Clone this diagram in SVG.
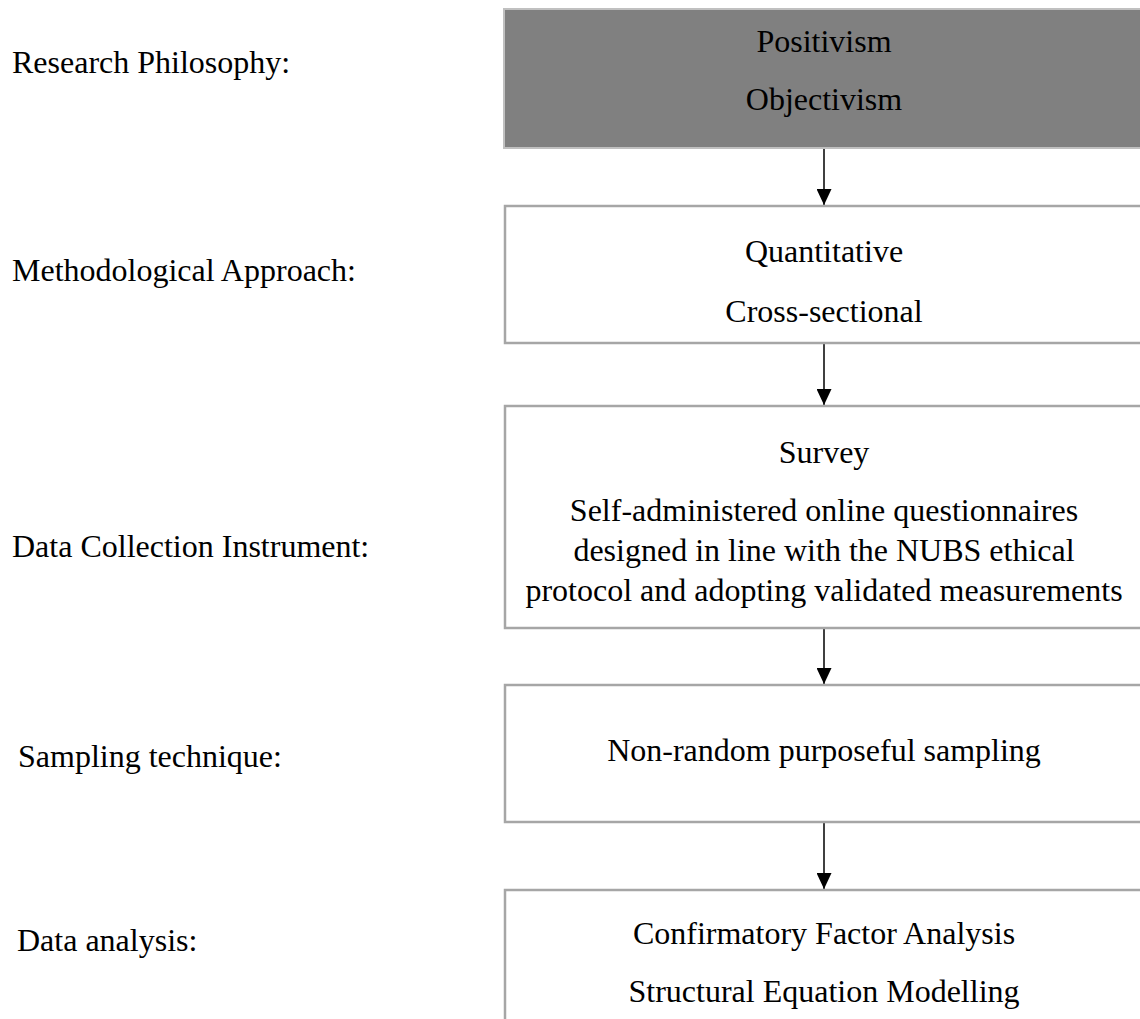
<svg xmlns="http://www.w3.org/2000/svg" width="1140" height="1019" viewBox="0 0 1140 1019">
  <defs>
    <style>
      text { font-family: "Liberation Serif", "Times New Roman", serif; font-size: 32px; fill: #000; }
      .c { text-anchor: middle; }
      .box { fill: #ffffff; stroke: #a6a6a6; stroke-width: 2.5; }
      .dark { fill: #808080; stroke: #c0c0c0; stroke-width: 2; }
      .conn { stroke: #000; stroke-width: 1.5; fill: none; marker-end: url(#arrow); }
    </style>
    <marker id="arrow" viewBox="0 0 16 15" refX="16" refY="7.5" markerWidth="16" markerHeight="15" markerUnits="userSpaceOnUse" orient="auto">
      <path d="M0,0 L16,7.5 L0,15 Z" fill="#000"/>
    </marker>
  </defs>
  <rect width="1140" height="1019" fill="#ffffff"/>

  <g id="labels">
    <text x="12" y="73">Research Philosophy:</text>
    <text x="12" y="281">Methodological Approach:</text>
    <text x="12" y="557">Data Collection Instrument:</text>
    <text x="18" y="767">Sampling technique:</text>
    <text x="17" y="951">Data analysis:</text>
  </g>

  <g id="connectors">
    <line class="conn" x1="824" y1="149" x2="824" y2="205"/>
    <line class="conn" x1="824" y1="344" x2="824" y2="405"/>
    <line class="conn" x1="824" y1="629" x2="824" y2="684"/>
    <line class="conn" x1="824" y1="823" x2="824" y2="889"/>
  </g>

  <g id="node-philosophy">
    <rect class="dark" x="504" y="9" width="650" height="139"/>
    <text class="c" x="824" y="52">Positivism</text>
    <text class="c" x="824" y="110">Objectivism</text>
  </g>

  <g id="node-approach">
    <rect class="box" x="505" y="206" width="650" height="137"/>
    <text class="c" x="824" y="262">Quantitative</text>
    <text class="c" x="824" y="322">Cross-sectional</text>
  </g>

  <g id="node-instrument">
    <rect class="box" x="505" y="406" width="650" height="222"/>
    <text class="c" x="824" y="463">Survey</text>
    <text class="c" x="824" y="521">Self-administered online questionnaires</text>
    <text class="c" x="824" y="561">designed in line with the NUBS ethical</text>
    <text class="c" x="824" y="601">protocol and adopting validated measurements</text>
  </g>

  <g id="node-sampling">
    <rect class="box" x="505" y="685" width="650" height="137"/>
    <text class="c" x="824" y="761">Non-random purposeful sampling</text>
  </g>

  <g id="node-analysis">
    <rect class="box" x="505" y="890" width="650" height="150"/>
    <text class="c" x="824" y="944">Confirmatory Factor Analysis</text>
    <text class="c" x="824" y="1002">Structural Equation Modelling</text>
  </g>
</svg>
